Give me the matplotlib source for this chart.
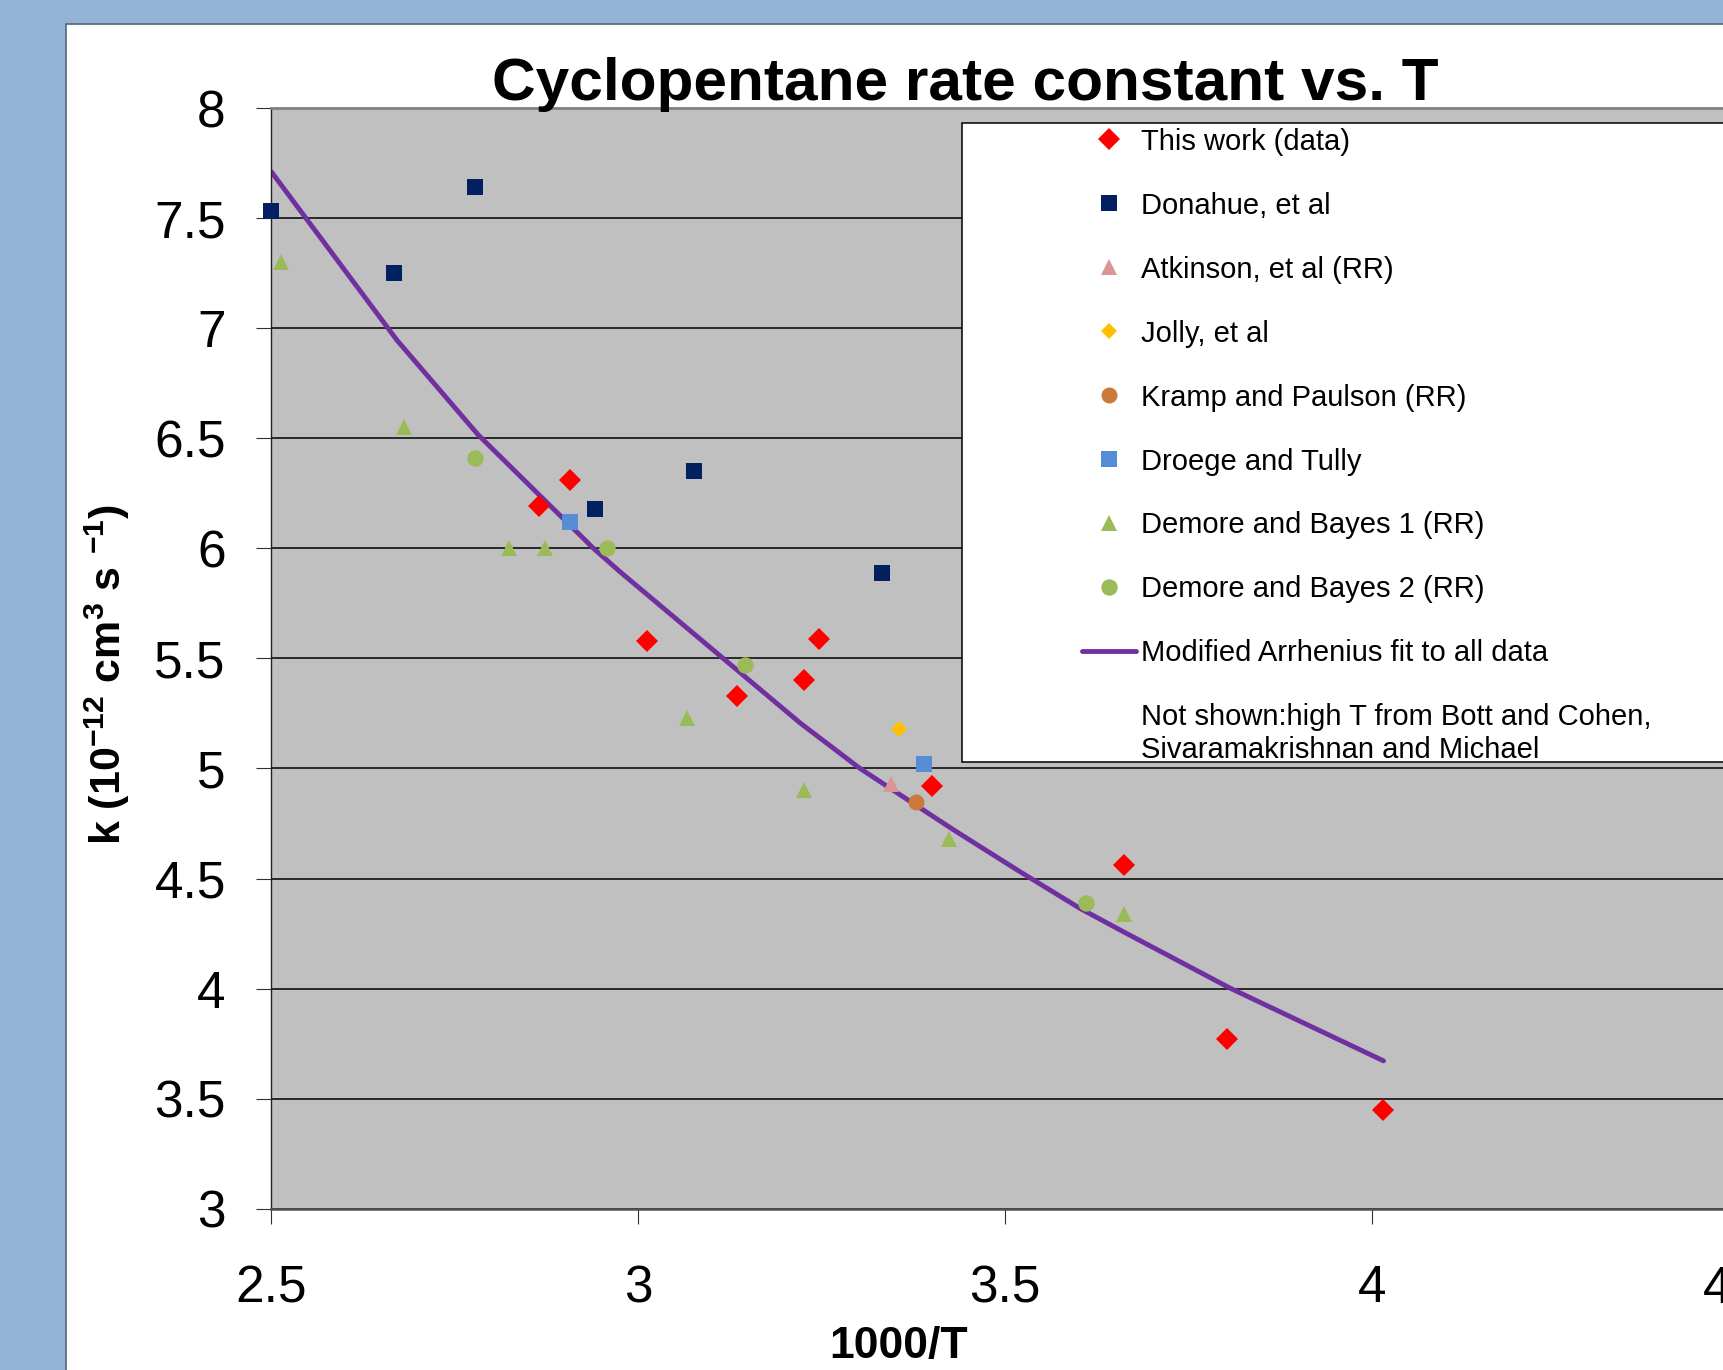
import matplotlib
matplotlib.use("Agg")
import matplotlib.pyplot as plt
from matplotlib.lines import Line2D
from matplotlib.patches import Rectangle

plt.rcParams['font.family'] = ['Liberation Sans', 'DejaVu Sans']
plt.rcParams['mathtext.fontset'] = 'custom'
plt.rcParams['mathtext.rm'] = 'Liberation Sans:bold'
plt.rcParams['mathtext.default'] = 'rm'

# ---- data (x = 1000/T, k in 1e-12 cm^3 s^-1) ----
this_work_x = [2.865, 2.907, 3.012, 3.134, 3.226, 3.246, 3.401, 3.662, 3.802, 4.015]
this_work_k = [6.19, 6.31, 5.58, 5.33, 5.40, 5.59, 4.92, 4.56, 3.77, 3.45]

donahue_x = [2.500, 2.667, 2.778, 2.941, 3.076, 3.333]
donahue_k = [7.53, 7.25, 7.64, 6.18, 6.35, 5.89]

atkinson_x = [3.344]
atkinson_k = [4.93]

jolly_x = [3.355]
jolly_k = [5.18]

kramp_x = [3.378]
kramp_k = [4.85]

droege_x = [2.907, 3.390]
droege_k = [6.12, 5.02]

demore1_x = [2.513, 2.681, 2.824, 2.873, 3.067, 3.226, 3.424, 3.662]
demore1_k = [7.30, 6.55, 6.00, 6.00, 5.23, 4.90, 4.68, 4.34]

demore2_x = [2.778, 2.958, 3.145, 3.610]
demore2_k = [6.41, 6.00, 5.47, 4.39]

fit_x = [2.500, 2.671, 2.782, 2.939, 2.975, 3.221, 3.302, 3.430, 3.520, 3.602, 3.661, 3.807, 4.016]
fit_k = [7.71, 6.946, 6.515, 6.000, 5.894, 5.206, 5.001, 4.721, 4.532, 4.365, 4.259, 4.002, 3.672]

x_ticks = [2.5, 3, 3.5, 4, 4.5]
x_tick_labels = ['2.5', '3', '3.5', '4', '4.5']
y_ticks = [3, 3.5, 4, 4.5, 5, 5.5, 6, 6.5, 7, 7.5, 8]
y_tick_labels = ['3', '3.5', '4', '4.5', '5', '5.5', '6', '6.5', '7', '7.5', '8']

W, H = 1723, 1370
fig = plt.figure(figsize=(W / 100, H / 100), dpi=100)
fig.patch.set_facecolor('#95B3D7')

# white chart panel
fig.add_artist(Rectangle((66 / W, -0.1), 1.2, (H - 24) / H + 0.1,
                         transform=fig.transFigure, facecolor='white',
                         edgecolor='#52657F', lw=1.2, zorder=-5))

ax = fig.add_axes([271.4 / W, 1 - 1208.8 / H, 2 * 733.6 / W, (1208.8 - 108) / H])
ax.set_facecolor('#C0C0C0')
ax.set_xlim(2.5, 4.5)
ax.set_ylim(3, 8)
ax.set_xticks(x_ticks)
ax.set_xticklabels(x_tick_labels)
ax.set_yticks(y_ticks)
ax.set_yticklabels(y_tick_labels)
ax.tick_params(axis='both', direction='out', length=10.8, width=0.8,
               labelsize=37, color='#303030')
ax.tick_params(axis='x', pad=29)
ax.tick_params(axis='y', pad=22)
ax.yaxis.grid(True, color='black', lw=1.1)
ax.set_axisbelow(True)
ax.spines['left'].set_color('#202020')
ax.spines['left'].set_linewidth(1.0)
ax.spines['bottom'].set_color('#505050')
ax.spines['bottom'].set_linewidth(1.8)
ax.spines['top'].set_color('#808080')
ax.spines['top'].set_linewidth(2.0)
ax.spines['right'].set_visible(False)

fit_line, = ax.plot(fit_x, fit_k, color='#7030A0', lw=3.5, solid_capstyle='round',
                    solid_joinstyle='round', zorder=2,
                    label='Modified Arrhenius fit to all data')

common = dict(linestyle='none', clip_on=False, zorder=3, markeredgewidth=0)
h1, = ax.plot(this_work_x, this_work_k, marker='D', ms=11, color='#FF0000',
              label='This work (data)', **common)
h2, = ax.plot(donahue_x, donahue_k, marker='s', ms=11.3, color='#002060',
              label='Donahue, et al', **common)
h3, = ax.plot(atkinson_x, atkinson_k, marker='^', ms=11.5, color='#DA9694',
              label='Atkinson, et al (RR)', **common)
h4, = ax.plot(jolly_x, jolly_k, marker='D', ms=8, color='#FFC000',
              label='Jolly, et al', **common)
h5, = ax.plot(kramp_x, kramp_k, marker='o', ms=11.5, color='#CC7A3A',
              label='Kramp and Paulson (RR)', **common)
h6, = ax.plot(droege_x, droege_k, marker='s', ms=11.5, color='#558ED5',
              label='Droege and Tully', **common)
h7, = ax.plot(demore1_x, demore1_k, marker='^', ms=11.5, color='#9BBB59',
              label='Demore and Bayes 1 (RR)', **common)
h8, = ax.plot(demore2_x, demore2_k, marker='o', ms=11.8, color='#9BBB59',
              label='Demore and Bayes 2 (RR)', **common)
note = Line2D([], [], linestyle='none',
              label='Not shown:high T from Bott and Cohen,\nSivaramakrishnan and Michael')

# legend box
fig.add_artist(Rectangle((961.6 / W, 1 - 761.5 / H), 0.6, (761.5 - 123) / H,
                         transform=fig.transFigure, facecolor='white',
                         edgecolor='black', lw=1.1, zorder=4))
handles = [h1, h2, h3, h4, h5, h6, h7, h8, fit_line, note]
fig.legend(handles=handles, labels=[h.get_label() for h in handles],
           loc='upper left', bbox_to_anchor=(1082 / W, 1 - 127.7 / H),
           bbox_transform=fig.transFigure, frameon=False, borderpad=0,
           borderaxespad=0, handlelength=1.86, handletextpad=0.15,
           labelspacing=1.233, fontsize=21)

fig.text(965.6 / W, 1 - 100 / H, 'Cyclopentane rate constant vs. T',
         ha='center', va='baseline', fontsize=43.5, fontweight='bold')
fig.text(899 / W, 1 - 1358 / H, '1000/T', ha='center', va='baseline',
         fontsize=32, fontweight='bold')
fig.text(107 / W, 1 - 675 / H, r'k (10$^{-12}$ cm$^{3}$ s $^{-1}$)',
         ha='center', va='center', rotation=90, fontsize=31, fontweight='bold')

fig.savefig('out.png', dpi=100, facecolor=fig.get_facecolor())
